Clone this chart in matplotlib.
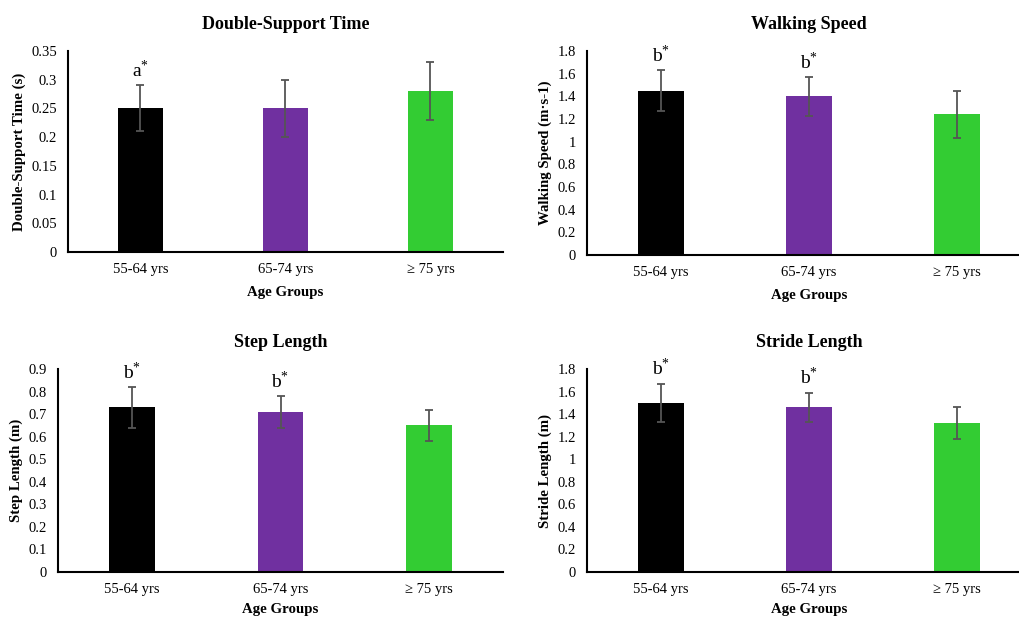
import numpy as np
import matplotlib.pyplot as plt

plt.rcParams['font.family'] = ['Liberation Serif', 'DejaVu Serif']
plt.rcParams['mathtext.fontset'] = 'custom'
plt.rcParams['mathtext.rm'] = 'Liberation Serif'
plt.rcParams['mathtext.it'] = 'Liberation Serif'

groups = ["55-64 yrs", "65-74 yrs", "\u2265 75 yrs"]
colors = ["#000000", "#7030A0", "#33CC33"]

dst_mean = [0.25, 0.25, 0.28]
dst_sd = [0.04, 0.05, 0.05]
dst_marks = ["a", "", ""]

speed_mean = [1.45, 1.40, 1.24]
speed_sd = [0.18, 0.17, 0.21]
speed_marks = ["b", "b", ""]

step_mean = [0.73, 0.71, 0.65]
step_sd = [0.09, 0.07, 0.07]
step_marks = ["b", "b", ""]

stride_mean = [1.50, 1.46, 1.32]
stride_sd = [0.17, 0.13, 0.14]
stride_marks = ["b", "b", ""]

panels = [
    ("Double-Support Time", "Double-Support Time (s)", dst_mean, dst_sd, dst_marks,
     0.35, 0.05, [68, 51, 503, 252], 7),
    ("Walking Speed", "Walking Speed (m\u00b7s-1)", speed_mean, speed_sd, speed_marks,
     1.8, 0.2, [587, 51, 1031, 255], 7),
    ("Step Length", "Step Length (m)", step_mean, step_sd, step_marks,
     0.9, 0.1, [58, 369, 503, 572], 5),
    ("Stride Length", "Stride Length (m)", stride_mean, stride_sd, stride_marks,
     1.8, 0.2, [587, 369, 1031, 572], 5),
]

W, H = 1020, 617
fig = plt.figure(figsize=(W / 100, H / 100), dpi=100)

for title, ylabel, mean, sd, marks, ymax, step, box, xpad in panels:
    x0, y0, x1, y1 = box
    ax = fig.add_axes([x0 / W, 1 - y1 / H, (x1 - x0) / W, (y1 - y0) / H])
    pos = np.arange(len(groups))
    ax.bar(pos, mean, 0.31, color=colors, zorder=2)
    ax.errorbar(pos, mean, yerr=sd, fmt='none', ecolor='#555555', elinewidth=1.3,
                capsize=2.7, capthick=1.3, zorder=3)
    for p, m, s, mk in zip(pos, mean, sd, marks):
        if mk:
            ax.annotate(mk + "$^{*}$", (p, m + s), xytext=(0, 3), textcoords='offset points',
                        ha='center', va='bottom', fontsize=14)
    ticks = np.round(np.arange(0, ymax + step / 2, step), 2)
    ax.set_xlim(-0.5, 2.5)
    ax.set_ylim(0, ymax)
    ax.set_yticks(ticks)
    ax.set_yticklabels(["%g" % v for v in ticks])
    ax.set_xticks(pos)
    ax.set_xticklabels(groups)
    ax.tick_params(length=0, labelsize=10.5, pad=8)
    ax.tick_params(axis='x', pad=8)
    for side in ['top', 'right']:
        ax.spines[side].set_visible(False)
    ax.spines['left'].set_linewidth(1.5)
    ax.spines['bottom'].set_linewidth(1.5)
    ax.set_title(title, fontsize=13, fontweight='bold', pad=16)
    ax.set_ylabel(ylabel, fontsize=10.7, fontweight='bold', labelpad=4)
    ax.set_xlabel("Age Groups", fontsize=10.7, fontweight='bold', labelpad=xpad)

fig.savefig("out.png", dpi=100)
